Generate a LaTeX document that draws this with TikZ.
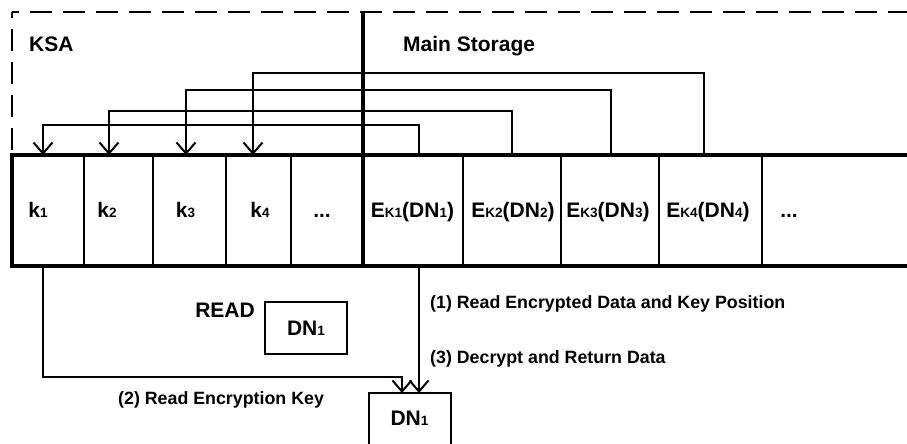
\documentclass[tikz,border=0pt]{standalone}
\usepackage{fontspec}
\setmainfont{Liberation Sans}
\usetikzlibrary{arrows.meta}
\newcommand\mysub[1]{{\fontsize{13.5}{14}\selectfont #1}}
\begin{document}
\begin{tikzpicture}[x=1pt,y=-1pt,
  cellbox/.style={draw, line width=2pt, minimum height=111pt, inner sep=0pt, outer sep=0pt, anchor=north west},
  bigtxt/.style={font=\fontsize{21}{25}\selectfont\bfseries, inner sep=0pt},
  smalltxt/.style={font=\fontsize{17.8}{21}\selectfont\bfseries, inner sep=0pt},
  thickline/.style={line width=4pt},
  dashborder/.style={line width=2pt, dash pattern=on 22pt off 11pt},
  conn/.style={line width=2pt, -{Straight Barb[length=11pt,width=19pt]}},
  dnbox/.style={draw, line width=2pt, minimum width=82pt, inner sep=0pt, outer sep=0pt,
     font=\fontsize{21}{25}\selectfont\bfseries, text height=15pt}
]
\useasboundingbox (0,0) rectangle (907,444);
\clip (0,0) rectangle (907,444);

% dashed frame
\coordinate (corner) at (12,12);
\coordinate (leftend) at (12,155);
\coordinate (rightend) at (920,12);
\draw[dashborder, dash phase=16pt] (corner) -- (leftend);
\draw[dashborder, dash phase=15pt] (corner) -- (rightend);

% cells
\node[cellbox, minimum width=72pt]  (c1) at (12,155) {};
\node[cellbox, minimum width=69pt]  (c2) at (84,155) {};
\node[cellbox, minimum width=73pt]  (c3) at (153,155) {};
\node[cellbox, minimum width=65pt]  (c4) at (226,155) {};
\node[cellbox, minimum width=72pt]  (c5) at (291,155) {};
\node[cellbox, minimum width=100pt] (e1) at (363,155) {};
\node[cellbox, minimum width=98pt]  (e2) at (463,155) {};
\node[cellbox, minimum width=98pt]  (e3) at (561,155) {};
\node[cellbox, minimum width=103pt] (e4) at (659,155) {};
\node[cellbox, minimum width=160pt] (e5) at (762,155) {};

% thick outline
\draw[thickline] (c1.north west) -- (e5.north east);
\draw[thickline] (c1.south west) -- (e5.south east);
\draw[thickline] ([yshift=2pt]c1.north west) -- ([yshift=-2pt]c1.south west);
\coordinate (divtop) at (363,11);
\draw[line width=4.5pt] (divtop) -- ([yshift=-2pt]e1.south west);

% headings
\node[bigtxt, anchor=base west] (ksa) at (29,52) {KSA};
\node[bigtxt, anchor=base west] (ms) at (403,52) {Main Storage};

% cell labels
\node[bigtxt, anchor=base] (l1) at (38,217) {k\mysub{1}};
\node[bigtxt, anchor=base] (l2) at (107,217) {k\mysub{2}};
\node[bigtxt, anchor=base] (l3) at (185.5,217) {k\mysub{3}};
\node[bigtxt, anchor=base] (l4) at (260,217) {k\mysub{4}};
\node[bigtxt, anchor=base] (l5) at (322,217) {...};
\node[bigtxt, anchor=base] (m1) at (412.5,217) {E\mysub{K1}(DN\mysub{1})};
\node[bigtxt, anchor=base] (m2) at (513,217) {E\mysub{K2}(DN\mysub{2})};
\node[bigtxt, anchor=base] (m3) at (608,217) {E\mysub{K3}(DN\mysub{3})};
\node[bigtxt, anchor=base] (m4) at (708,217) {E\mysub{K4}(DN\mysub{4})};
\node[bigtxt, anchor=base] (m5) at (789,217) {...};

% key pointers
\draw[conn] ([xshift=6pt]e1.north) -- ++(0,-30) -| ([xshift=-5pt]c1.north);
\draw[conn] (e2.north) -- ++(0,-44) -| ([xshift=-9.5pt]c2.north);
\draw[conn] ([xshift=1pt]e3.north) -- ++(0,-65) -| ([xshift=-3.5pt]c3.north);
\draw[conn] ([xshift=-6.5pt]e4.north) -- ++(0,-82) -| ([xshift=-5.5pt]c4.north);

% READ box
\node[dnbox, minimum height=52pt, text depth=0pt] (rd) at (306,328) {DN\mysub{1}};
\node[bigtxt, anchor=base east] (readlbl) at (255,317) {READ};

% output box
\node[dnbox, minimum height=56pt, text depth=6pt] (out) at (409.5,421) {DN\mysub{1}};

% flows
\draw[conn] ([xshift=-5pt]c1.south) |- ([xshift=-7.5pt,yshift=16pt]out.north) -- ([xshift=-7.5pt]out.north);
\draw[conn] ([xshift=6pt]e1.south) -- ([xshift=9.5pt]out.north);

\node[smalltxt, anchor=base west] (s1) at (430,308.4) {(1) Read Encrypted Data and Key Position};
\node[smalltxt, anchor=base west] (s3) at (430,363.4) {(3) Decrypt and Return Data};
\node[smalltxt, anchor=base west] (s2) at (118,404.4) {(2) Read Encryption Key};
\end{tikzpicture}
\end{document}
